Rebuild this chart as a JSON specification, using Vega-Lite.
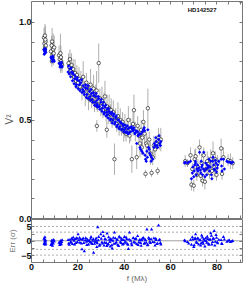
{
  "$schema": "https://vega.github.io/schema/vega-lite/v6.json",
  "padding": {"left": 3, "top": 0, "right": 2, "bottom": 1},
  "spacing": 1,
  "bounds": "flush",
  "config": {
    "view": {"stroke": "#777", "strokeWidth": 1},
    "axis": {"domain": false, "grid": false, "minExtent": 0, "tickColor": "#777", "tickSize": -3, "labelPadding": 3, "labelFont": "Liberation Sans", "labelFontSize": 9, "labelFontWeight": "bold", "labelColor": "#111", "labelFlush": false, "labelOverlap": false, "titleFont": "Liberation Sans", "titleFontWeight": "normal", "titleColor": "#555", "titleFontSize": 9}
  },
  "datasets": {
    "obs": [
      {"f":5.6,"v":0.92,"e":0.05,"m":0.86,"r":0.9},{"f":5.8,"v":0.89,"e":0.04,"m":0.855,"r":-0.6},{"f":6.0,"v":0.93,"e":0.06,"m":0.865,"r":1.4},{"f":6.1,"v":0.87,"e":0.03,"m":0.85,"r":-1.2},{"f":6.3,"v":0.90,"e":0.05,"m":0.86,"r":0.3},{"f":6.4,"v":0.88,"e":0.04,"m":0.845,"r":-0.9},{"f":5.9,"v":0.86,"e":0.03,"m":0.84,"r":0.6},{"f":6.2,"v":0.91,"e":0.07,"m":0.857,"r":-0.2},
      {"f":8.6,"v":0.85,"e":0.06,"m":0.82,"r":-1.3},{"f":8.9,"v":0.88,"e":0.05,"m":0.815,"r":0.2},{"f":9.1,"v":0.90,"e":0.07,"m":0.81,"r":-0.4},{"f":9.3,"v":0.83,"e":0.04,"m":0.825,"r":-1.6},{"f":9.6,"v":0.86,"e":0.08,"m":0.808,"r":-0.8},{"f":9.8,"v":0.84,"e":0.05,"m":0.805,"r":0.5},{"f":9.0,"v":0.80,"e":0.03,"m":0.818,"r":-1.0},{"f":10.0,"v":0.87,"e":0.06,"m":0.80,"r":-0.1},
      {"f":12.1,"v":0.83,"e":0.05,"m":0.79,"r":-0.5},{"f":12.4,"v":0.81,"e":0.04,"m":0.785,"r":-1.3},{"f":12.7,"v":0.84,"e":0.1,"m":0.78,"r":0.1},{"f":13.0,"v":0.80,"e":0.05,"m":0.79,"r":-0.9},{"f":13.2,"v":0.79,"e":0.03,"m":0.775,"r":-0.3},{"f":12.9,"v":0.82,"e":0.06,"m":0.783,"r":-1.1},{"f":13.4,"v":0.78,"e":0.04,"m":0.77,"r":0.4},
      {"f":16.2,"v":0.79,"e":0.05,"m":0.775,"r":-0.8},{"f":16.5,"v":0.77,"e":0.04,"m":0.735,"r":-1.2},{"f":16.8,"v":0.81,"e":0.05,"m":0.76,"r":0.5},{"f":17.1,"v":0.75,"e":0.03,"m":0.72,"r":-0.3},{"f":17.5,"v":0.78,"e":0.06,"m":0.745,"r":0.9},{"f":17.9,"v":0.74,"e":0.04,"m":0.70,"r":-1.0},{"f":18.2,"v":0.76,"e":0.05,"m":0.735,"r":1.3},{"f":18.6,"v":0.72,"e":0.03,"m":0.685,"r":0.2},{"f":19.0,"v":0.74,"e":0.07,"m":0.725,"r":0.8},{"f":19.4,"v":0.70,"e":0.04,"m":0.67,"r":-0.6},{"f":19.8,"v":0.73,"e":0.05,"m":0.705,"r":1.1},
      {"f":20.3,"v":0.69,"e":0.04,"m":0.66,"r":2.4},{"f":20.7,"v":0.71,"e":0.06,"m":0.70,"r":0.4},{"f":21.1,"v":0.67,"e":0.03,"m":0.65,"r":-0.5},{"f":21.5,"v":0.70,"e":0.05,"m":0.69,"r":0.7},{"f":22.0,"v":0.65,"e":0.05,"m":0.64,"r":-2.8},{"f":22.5,"v":0.72,"e":0.08,"m":0.675,"r":1.0},{"f":23.0,"v":0.66,"e":0.04,"m":0.63,"r":-3.5},{"f":23.4,"v":0.63,"e":0.06,"m":0.665,"r":0.3},{"f":23.9,"v":0.69,"e":0.05,"m":0.615,"r":-0.2},{"f":24.3,"v":0.66,"e":0.04,"m":0.66,"r":0.6},{"f":24.8,"v":0.61,"e":0.06,"m":0.61,"r":-1.1},{"f":25.2,"v":0.64,"e":0.05,"m":0.645,"r":0.1},{"f":25.7,"v":0.68,"e":0.08,"m":0.60,"r":0.9},{"f":26.1,"v":0.60,"e":0.04,"m":0.635,"r":-0.7},{"f":26.6,"v":0.63,"e":0.05,"m":0.59,"r":0.2},{"f":27.0,"v":0.66,"e":0.07,"m":0.625,"r":-4.0},{"f":27.4,"v":0.59,"e":0.05,"m":0.575,"r":-0.9},{"f":27.9,"v":0.62,"e":0.06,"m":0.62,"r":0.5},{"f":28.3,"v":0.65,"e":0.1,"m":0.57,"r":-0.3},{"f":28.4,"v":0.47,"e":0.03,"m":0.60,"r":-2.0},{"f":28.8,"v":0.58,"e":0.04,"m":0.565,"r":4.9},{"f":29.2,"v":0.79,"e":0.1,"m":0.61,"r":1.5},{"f":29.7,"v":0.61,"e":0.05,"m":0.555,"r":-1.2},
      {"f":30.1,"v":0.57,"e":0.05,"m":0.59,"r":2.4},{"f":30.6,"v":0.60,"e":0.07,"m":0.545,"r":-0.4},{"f":31.0,"v":0.55,"e":0.04,"m":0.575,"r":3.2},{"f":31.5,"v":0.58,"e":0.06,"m":0.53,"r":-1.5},{"f":31.9,"v":0.62,"e":0.08,"m":0.565,"r":0.8},{"f":32.4,"v":0.54,"e":0.05,"m":0.52,"r":-0.6},{"f":32.7,"v":0.45,"e":0.04,"m":0.54,"r":-1.7},{"f":32.8,"v":0.57,"e":0.06,"m":0.555,"r":2.7},{"f":33.3,"v":0.52,"e":0.04,"m":0.51,"r":-1.0},{"f":33.7,"v":0.56,"e":0.07,"m":0.545,"r":0.5},{"f":34.2,"v":0.53,"e":0.05,"m":0.50,"r":-1.8},{"f":34.6,"v":0.55,"e":0.06,"m":0.53,"r":0.3},{"f":35.0,"v":0.50,"e":0.04,"m":0.485,"r":-2.5},{"f":35.5,"v":0.54,"e":0.06,"m":0.52,"r":1.2},{"f":36.0,"v":0.30,"e":0.08,"m":0.48,"r":3.0},{"f":36.5,"v":0.51,"e":0.05,"m":0.51,"r":-0.8},{"f":37.0,"v":0.48,"e":0.04,"m":0.465,"r":0.6},{"f":37.5,"v":0.52,"e":0.07,"m":0.50,"r":-1.3},{"f":38.0,"v":0.47,"e":0.05,"m":0.455,"r":1.6},{"f":38.5,"v":0.50,"e":0.06,"m":0.49,"r":-0.2},{"f":39.0,"v":0.46,"e":0.04,"m":0.45,"r":0.9},{"f":39.5,"v":0.49,"e":0.05,"m":0.48,"r":-1.1},
      {"f":40.0,"v":0.44,"e":0.05,"m":0.44,"r":0.4},{"f":40.5,"v":0.47,"e":0.06,"m":0.475,"r":-0.5},{"f":41.0,"v":0.43,"e":0.04,"m":0.435,"r":1.3},{"f":41.5,"v":0.46,"e":0.05,"m":0.47,"r":-0.9},{"f":42.0,"v":0.50,"e":0.07,"m":0.43,"r":-2.7},{"f":42.5,"v":0.42,"e":0.04,"m":0.46,"r":3.0},{"f":43.0,"v":0.45,"e":0.06,"m":0.44,"r":0.2},{"f":43.5,"v":0.30,"e":0.07,"m":0.455,"r":-1.4},{"f":44.0,"v":0.48,"e":0.06,"m":0.445,"r":1.0},{"f":44.4,"v":0.55,"e":0.08,"m":0.46,"r":-0.3},{"f":45.0,"v":0.44,"e":0.05,"m":0.435,"r":0.7},{"f":45.6,"v":0.31,"e":0.06,"m":0.38,"r":-1.0},{"f":46.0,"v":0.47,"e":0.05,"m":0.44,"r":1.8},{"f":46.5,"v":0.42,"e":0.04,"m":0.425,"r":-0.4},{"f":47.0,"v":0.38,"e":0.07,"m":0.36,"r":0.5},{"f":47.5,"v":0.45,"e":0.05,"m":0.43,"r":-1.6},{"f":47.8,"v":0.36,"e":0.04,"m":0.34,"r":0.3},{"f":48.0,"v":0.41,"e":0.04,"m":0.44,"r":0.9},{"f":48.5,"v":0.49,"e":0.06,"m":0.45,"r":1.2},{"f":49.0,"v":0.43,"e":0.05,"m":0.445,"r":-0.7},{"f":49.4,"v":0.225,"e":0.02,"m":0.30,"r":0.3},{"f":49.7,"v":0.38,"e":0.05,"m":0.29,"r":-0.5},
      {"f":50.0,"v":0.37,"e":0.05,"m":0.34,"r":4.1},{"f":50.4,"v":0.56,"e":0.1,"m":0.45,"r":-1.2},{"f":51.0,"v":0.40,"e":0.04,"m":0.35,"r":0.8},{"f":51.5,"v":0.33,"e":0.06,"m":0.32,"r":-0.6},{"f":52.0,"v":0.23,"e":0.02,"m":0.31,"r":4.1},{"f":52.5,"v":0.31,"e":0.04,"m":0.30,"r":-0.3},{"f":53.0,"v":0.37,"e":0.05,"m":0.36,"r":1.0},{"f":53.5,"v":0.35,"e":0.05,"m":0.37,"r":-1.5},{"f":54.0,"v":0.38,"e":0.04,"m":0.39,"r":0.4},{"f":54.6,"v":0.24,"e":0.02,"m":0.36,"r":-0.8},{"f":55.0,"v":0.41,"e":0.05,"m":0.40,"r":5.5},{"f":55.5,"v":0.39,"e":0.04,"m":0.38,"r":0.6},{"f":56.0,"v":0.40,"e":0.06,"m":0.39,"r":-1.1},
      {"f":66.5,"v":0.29,"e":0.03,"m":0.285,"r":0.0},{"f":67.5,"v":0.28,"e":0.02,"m":0.28,"r":-0.3},{"f":68.8,"v":0.32,"e":0.04,"m":0.29,"r":0.5},{"f":69.2,"v":0.17,"e":0.03,"m":0.20,"r":-1.2},{"f":69.6,"v":0.25,"e":0.03,"m":0.23,"r":1.4},{"f":70.2,"v":0.165,"e":0.03,"m":0.21,"r":-2.0},{"f":70.6,"v":0.30,"e":0.05,"m":0.27,"r":0.8},{"f":71.0,"v":0.315,"e":0.04,"m":0.28,"r":2.4},{"f":71.5,"v":0.22,"e":0.03,"m":0.25,"r":-0.6},{"f":72.0,"v":0.26,"e":0.04,"m":0.24,"r":1.0},{"f":72.7,"v":0.36,"e":0.04,"m":0.335,"r":0.3},{"f":73.2,"v":0.215,"e":0.03,"m":0.23,"r":-1.5},{"f":73.6,"v":0.28,"e":0.05,"m":0.26,"r":2.0},{"f":74.0,"v":0.19,"e":0.03,"m":0.22,"r":-0.4},{"f":74.5,"v":0.32,"e":0.04,"m":0.335,"r":0.7},{"f":75.0,"v":0.185,"e":0.04,"m":0.21,"r":-1.8},{"f":75.5,"v":0.25,"e":0.03,"m":0.25,"r":0.1},{"f":76.0,"v":0.29,"e":0.05,"m":0.27,"r":1.6},{"f":76.5,"v":0.275,"e":0.04,"m":0.265,"r":-0.9},{"f":77.0,"v":0.23,"e":0.03,"m":0.24,"r":0.5},{"f":77.5,"v":0.30,"e":0.05,"m":0.29,"r":2.8},{"f":78.0,"v":0.24,"e":0.04,"m":0.20,"r":-1.1},{"f":78.5,"v":0.33,"e":0.06,"m":0.31,"r":0.9},{"f":79.0,"v":0.26,"e":0.05,"m":0.25,"r":3.6},{"f":79.5,"v":0.30,"e":0.04,"m":0.295,"r":-0.2},{"f":80.0,"v":0.22,"e":0.03,"m":0.235,"r":1.2},{"f":80.5,"v":0.28,"e":0.04,"m":0.27,"r":-0.7},{"f":82.0,"v":0.355,"e":0.05,"m":0.30,"r":0.4},{"f":82.4,"v":0.225,"e":0.03,"m":0.24,"r":-1.0},{"f":83.0,"v":0.31,"e":0.05,"m":0.30,"r":1.5},{"f":85.0,"v":0.295,"e":0.03,"m":0.285,"r":0.2},{"f":86.0,"v":0.29,"e":0.04,"m":0.285,"r":-0.3},{"f":87.0,"v":0.28,"e":0.03,"m":0.285,"r":0.1}
    ],
    "extra": [
      {"f":5.7,"m":0.835,"r":-1.0},{"f":6.0,"m":0.85,"r":0.1},{"f":9.2,"m":0.80,"r":-0.5},{"f":9.5,"m":0.82,"r":0.3},{"f":12.5,"m":0.77,"r":-0.7},{"f":13.1,"m":0.795,"r":-0.2},
      {"f":16.0,"m":0.745,"r":0.4},{"f":17.3,"m":0.765,"r":-0.5},{"f":18.0,"m":0.74,"r":0.6},{"f":18.8,"m":0.71,"r":-1.1},{"f":19.6,"m":0.68,"r":0.9},{"f":20.0,"m":0.715,"r":-0.3},{"f":20.9,"m":0.68,"r":1.2},{"f":21.8,"m":0.705,"r":-0.8},{"f":22.3,"m":0.655,"r":0.5},{"f":22.8,"m":0.645,"r":-0.6},{"f":23.6,"m":0.68,"r":1.1},{"f":24.1,"m":0.63,"r":-1.3},{"f":24.6,"m":0.675,"r":0.2},{"f":25.5,"m":0.62,"r":-0.4},{"f":25.9,"m":0.655,"r":1.5},{"f":26.4,"m":0.605,"r":-1.0},{"f":26.9,"m":0.64,"r":0.7},{"f":27.6,"m":0.59,"r":-0.2},{"f":28.1,"m":0.635,"r":1.0},{"f":28.6,"m":0.58,"r":-0.7},{"f":29.0,"m":0.62,"r":0.3},{"f":29.5,"m":0.57,"r":-1.6},
      {"f":30.3,"m":0.605,"r":0.9},{"f":30.8,"m":0.56,"r":-0.8},{"f":31.3,"m":0.59,"r":1.8},{"f":31.7,"m":0.54,"r":-0.5},{"f":32.2,"m":0.575,"r":0.6},{"f":33.0,"m":0.525,"r":-1.2},{"f":33.5,"m":0.56,"r":1.4},{"f":34.0,"m":0.535,"r":-0.3},{"f":34.4,"m":0.505,"r":0.8},{"f":34.9,"m":0.54,"r":-1.4},{"f":35.3,"m":0.50,"r":0.2},{"f":35.8,"m":0.53,"r":-0.9},{"f":36.3,"m":0.49,"r":1.0},{"f":36.8,"m":0.52,"r":-0.4},{"f":37.3,"m":0.475,"r":0.5},{"f":37.8,"m":0.50,"r":-1.7},{"f":38.3,"m":0.465,"r":1.3},{"f":38.8,"m":0.485,"r":-0.6},{"f":39.3,"m":0.455,"r":0.4},{"f":39.8,"m":0.47,"r":-1.0},
      {"f":40.3,"m":0.45,"r":1.5},{"f":40.8,"m":0.46,"r":-0.2},{"f":41.3,"m":0.44,"r":0.7},{"f":41.8,"m":0.455,"r":-1.2},{"f":42.3,"m":0.435,"r":0.6},{"f":43.3,"m":0.465,"r":-0.8},{"f":44.2,"m":0.45,"r":1.1},{"f":44.8,"m":0.43,"r":-0.5},{"f":45.3,"m":0.445,"r":0.9},{"f":46.2,"m":0.42,"r":-1.3},{"f":46.8,"m":0.43,"r":0.4},{"f":47.3,"m":0.35,"r":-0.6},{"f":48.3,"m":0.33,"r":1.0},{"f":48.8,"m":0.46,"r":-0.9},{"f":49.2,"m":0.32,"r":0.6},{"f":50.2,"m":0.31,"r":-1.4},{"f":50.7,"m":0.36,"r":1.2},{"f":51.2,"m":0.33,"r":-0.2},{"f":51.8,"m":0.29,"r":0.7},{"f":53.2,"m":0.38,"r":-0.4},{"f":53.8,"m":0.41,"r":0.9},{"f":54.3,"m":0.37,"r":-1.0},{"f":55.2,"m":0.42,"r":0.3},{"f":55.8,"m":0.37,"r":-0.6},
      {"f":66.2,"m":0.28,"r":0.3},{"f":68.0,"m":0.285,"r":-0.8},{"f":69.8,"m":0.26,"r":0.6},{"f":70.4,"m":0.24,"r":-1.4},{"f":70.9,"m":0.29,"r":1.0},{"f":71.3,"m":0.22,"r":-0.2},{"f":71.8,"m":0.27,"r":0.9},{"f":72.3,"m":0.255,"r":-1.1},{"f":73.0,"m":0.245,"r":0.4},{"f":73.4,"m":0.29,"r":-0.7},{"f":73.9,"m":0.27,"r":1.3},{"f":74.3,"m":0.25,"r":-0.9},{"f":74.8,"m":0.24,"r":0.2},{"f":75.3,"m":0.28,"r":1.0},{"f":75.8,"m":0.22,"r":-0.5},{"f":76.3,"m":0.255,"r":0.8},{"f":76.8,"m":0.30,"r":-1.2},{"f":77.3,"m":0.26,"r":0.6},{"f":77.8,"m":0.22,"r":1.9},{"f":78.3,"m":0.29,"r":-0.3},{"f":78.8,"m":0.27,"r":0.9},{"f":79.3,"m":0.245,"r":-1.5},{"f":79.8,"m":0.28,"r":2.2},{"f":80.3,"m":0.255,"r":-0.4},{"f":81.0,"m":0.29,"r":0.5},{"f":82.2,"m":0.265,"r":-0.8},{"f":83.4,"m":0.25,"r":0.6},{"f":84.5,"m":0.29,"r":-0.2},{"f":85.5,"m":0.285,"r":0.3},{"f":86.5,"m":0.28,"r":-0.1}
    ],
    "dashes": [{"y": -5}, {"y": -3}, {"y": 3}, {"y": 5}],
    "zero": [{"y": 0}],
    "label": [{"name": "HD142527", "f": 73.8, "v": 1.061}]
  },
  "vconcat": [
    {
      "width": 211,
      "height": 217,
      "resolve": {"axis": {"x": "independent", "y": "independent"}},
      "layer": [
        {
          "data": {"name": "obs"},
          "mark": {"type": "errorbar", "rule": {"stroke": "#999", "strokeWidth": 0.8}},
          "encoding": {
            "x": {"field": "f", "type": "quantitative", "scale": {"domain": [0, 91], "nice": false, "zero": false},
                  "axis": {"orient": "bottom", "labels": false, "title": null, "values": [5,10,15,20,25,30,35,40,45,50,55,60,65,70,75,80,85,90]}},
            "y": {"field": "v", "type": "quantitative", "scale": {"domain": [0, 1.107], "nice": false, "zero": false},
                  "axis": {"orient": "left", "title": "V²", "titleFontSize": 10, "titleY": 118, "format": ".1f", "values": [0,0.1,0.2,0.3,0.4,0.5,0.6,0.7,0.8,0.9,1],
                           "labelExpr": "datum.value == 0 || datum.value == 0.5 || datum.value == 1 ? datum.label : ''"}},
            "yError": {"field": "e"}
          }
        },
        {
          "data": {"name": "obs"},
          "mark": {"type": "point", "filled": true, "fill": "white", "stroke": "black", "strokeWidth": 0.6, "size": 12, "opacity": 1},
          "encoding": {
            "x": {"field": "f", "type": "quantitative", "scale": {"domain": [0, 91], "nice": false, "zero": false},
                  "axis": {"orient": "top", "labels": false, "title": null, "values": [5,10,15,20,25,30,35,40,45,50,55,60,65,70,75,80,85,90]}},
            "y": {"field": "v", "type": "quantitative", "scale": {"domain": [0, 1.107], "nice": false, "zero": false},
                  "axis": {"orient": "right", "labels": false, "title": null, "values": [0.1,0.2,0.3,0.4,0.5,0.6,0.7,0.8,0.9,1,1.1]}}
          }
        },
        {
          "data": {"name": "obs"},
          "mark": {"type": "point", "shape": "diamond", "filled": true, "color": "#0000ff", "size": 12, "opacity": 1},
          "encoding": {
            "x": {"field": "f", "type": "quantitative", "scale": {"domain": [0, 91], "nice": false, "zero": false}, "axis": null},
            "y": {"field": "m", "type": "quantitative", "scale": {"domain": [0, 1.107], "nice": false, "zero": false}, "axis": null}
          }
        },
        {
          "data": {"name": "extra"},
          "mark": {"type": "point", "shape": "diamond", "filled": true, "color": "#0000ff", "size": 12, "opacity": 1},
          "encoding": {
            "x": {"field": "f", "type": "quantitative", "scale": {"domain": [0, 91], "nice": false, "zero": false}, "axis": null},
            "y": {"field": "m", "type": "quantitative", "scale": {"domain": [0, 1.107], "nice": false, "zero": false}, "axis": null}
          }
        },
        {
          "data": {"name": "label"},
          "mark": {"type": "text", "font": "Liberation Sans", "fontSize": 6, "fontWeight": "bold", "color": "#111", "align": "center", "baseline": "middle"},
          "encoding": {
            "text": {"field": "name"},
            "x": {"field": "f", "type": "quantitative", "scale": {"domain": [0, 91], "nice": false, "zero": false}, "axis": null},
            "y": {"field": "v", "type": "quantitative", "scale": {"domain": [0, 1.107], "nice": false, "zero": false}, "axis": null}
          }
        }
      ]
    },
    {
      "width": 211,
      "height": 43,
      "resolve": {"axis": {"x": "independent", "y": "independent"}},
      "layer": [
        {
          "data": {"name": "dashes"},
          "mark": {"type": "rule", "stroke": "#888", "strokeWidth": 0.7, "strokeDash": [2, 2]},
          "encoding": {
            "y": {"field": "y", "type": "quantitative", "scale": {"domain": [-7.4, 7.6], "nice": false, "zero": false},
                  "axis": {"orient": "left", "title": "Err (σ)", "titleColor": "#777", "titleFontSize": 8, "values": [-5, -2.5, 0, 2.5, 5],
                           "labelExpr": "datum.value == -5 || datum.value == 0 || datum.value == 5 ? datum.label : ''"}}
          }
        },
        {
          "data": {"name": "zero"},
          "mark": {"type": "rule", "stroke": "#888", "strokeWidth": 0.8},
          "encoding": {
            "y": {"field": "y", "type": "quantitative", "scale": {"domain": [-7.4, 7.6], "nice": false, "zero": false}, "axis": null}
          }
        },
        {
          "data": {"name": "extra"},
          "mark": {"type": "point", "shape": "triangle-up", "filled": true, "color": "#0000ff", "size": 11, "opacity": 1},
          "encoding": {
            "x": {"field": "f", "type": "quantitative", "scale": {"domain": [0, 91], "nice": false, "zero": false}, "axis": null},
            "y": {"field": "r", "type": "quantitative", "scale": {"domain": [-7.4, 7.6], "nice": false, "zero": false}, "axis": null}
          }
        },
        {
          "data": {"name": "obs"},
          "mark": {"type": "point", "shape": "triangle-up", "filled": true, "color": "#0000ff", "size": 11, "opacity": 1},
          "encoding": {
            "x": {"field": "f", "type": "quantitative", "scale": {"domain": [0, 91], "nice": false, "zero": false},
                  "axis": {"orient": "bottom", "title": "f (Mλ)", "titleFontSize": 8, "titleColor": "#666", "titlePadding": 3, "values": [0,5,10,15,20,25,30,35,40,45,50,55,60,65,70,75,80,85,90],
                           "labelExpr": "datum.value % 20 == 0 ? datum.label : ''"}},
            "y": {"field": "r", "type": "quantitative", "scale": {"domain": [-7.4, 7.6], "nice": false, "zero": false},
                  "axis": {"orient": "right", "labels": false, "title": null, "values": [-5, -2.5, 0, 2.5, 5]}}
          }
        }
      ]
    }
  ]
}
